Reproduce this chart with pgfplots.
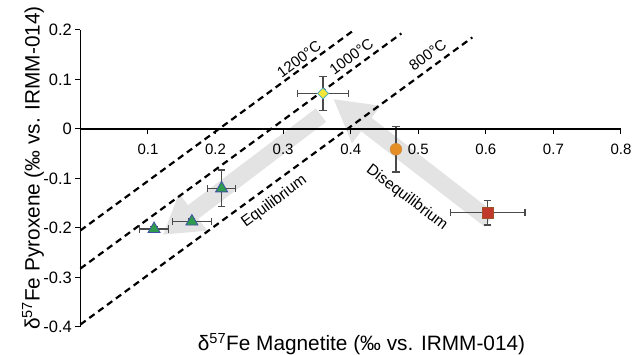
\documentclass[border=0pt]{standalone}
\usepackage{fontspec}
\setmainfont{Liberation Sans}
\usepackage{pgfplots}
\pgfplotsset{compat=1.18}
\usetikzlibrary{arrows.meta}
\definecolor{arrowgray}{HTML}{E3E3E3}
\definecolor{erry}{HTML}{4A4A4A}
\definecolor{dyellow}{HTML}{F3E63A}
\definecolor{dcyan}{HTML}{3BA7C4}
\definecolor{corange}{HTML}{E58E26}
\definecolor{sred}{HTML}{C0392B}
\definecolor{sredge}{HTML}{A0522D}
\definecolor{tgreen}{HTML}{2E9B4E}
\definecolor{tblue}{HTML}{3F51A5}
\pgfplotsset{
  myerr/.style={error bars/.cd, x dir=both, x explicit, y dir=both, y explicit,
    error bar style={line width=1.2pt, draw=erry},
    error mark options={rotate=90, line width=1.2pt, mark size=3.6pt, draw=erry}},
}
\begin{document}
\begin{tikzpicture}
\begin{axis}[
  scale only axis, width=540.6pt, height=297pt,
  xmin=0, xmax=0.8, ymin=-0.4, ymax=0.2,
  axis x line=middle, axis y line=left,
  axis line style={-, line width=1.5pt, black},
  axis on top, clip=false,
  xtick={0.1,0.2,0.3,0.4,0.5,0.6,0.7,0.8},
  xticklabels={0.1,0.2,0.3,0.4,0.5,0.6,0.7,0.8},
  ytick={-0.4,-0.3,-0.2,-0.1,0,0.1,0.2},
  yticklabels={-0.4,-0.3,-0.2,-0.1,0,0.1,0.2},
  tick align=outside, major tick length=5pt,
  tick style={line width=1pt, black},
  xticklabel style={font=\fontsize{15}{18}\selectfont, yshift=-6pt},
  yticklabel style={font=\fontsize{16.5}{19}\selectfont},
  /pgf/number format/assume math mode=true,
]
\coordinate (O) at (axis cs:0,-0.4);
% grey arrows
\addplot[draw=arrowgray, line width=17pt, -{Triangle[width=44pt,length=38pt]}]
  coordinates {(0.356,0.028) (0.122,-0.214)};
\addplot[draw=arrowgray, line width=17pt, -{Triangle[width=44pt,length=42pt]}]
  coordinates {(0.606,-0.184) (0.374,0.061)};
% isotherms
\addplot[black, line width=2.2pt, dash pattern=on 6.5pt off 4.5pt]
  coordinates {(0,-0.205) (0.405,0.200)};
\addplot[black, line width=2.2pt, dash pattern=on 6.5pt off 4.5pt]
  coordinates {(0,-0.282) (0.475,0.193)};
\addplot[black, line width=2.2pt, dash pattern=on 6.5pt off 4.5pt]
  coordinates {(0,-0.395) (0.58,0.185)};
% data
\addplot[only marks, mark=square*, mark size=3.9pt,
  mark options={rotate=45, fill=dyellow, draw=dcyan, line width=0.8pt}, myerr]
  coordinates {(0.359,0.072) +- (0.038,0.034)};
\addplot[only marks, mark=*, mark size=5.8pt,
  mark options={fill=corange, draw=corange!80!gray, line width=0.6pt}, myerr]
  coordinates {(0.467,-0.041) +- (0.007,0.046)};
\addplot[only marks, mark=square*, mark size=5.5pt,
  mark options={fill=sred, draw=sredge, line width=0.6pt}, myerr]
  coordinates {(0.603,-0.169) +- (0.055,0.025)};
\addplot[only marks, mark=triangle*, mark size=7pt,
  mark options={fill=tgreen, draw=tblue, line width=0.8pt}, myerr]
  coordinates {(0.209,-0.120) +- (0.021,0.037)
               (0.165,-0.187) +- (0.029,0.005)
               (0.109,-0.202) +- (0.021,0.005)};
% labels
\node[rotate=36.5, font=\fontsize{15}{18}\selectfont] at (axis cs:0.3235,0.141) {1200°C};
\node[rotate=36.5, font=\fontsize{15}{18}\selectfont] at (axis cs:0.401,0.146) {1000°C};
\node[rotate=36.5, font=\fontsize{15}{18}\selectfont] at (axis cs:0.514,0.149) {800°C};
\node[rotate=36.5, font=\fontsize{15.5}{18}\selectfont] at (axis cs:0.287,-0.147) {Equilibrium};
\node[rotate=-37, font=\fontsize{15.5}{18}\selectfont] at (axis cs:0.483,-0.139) {Disequilibrium};
\node[font=\fontsize{20.8}{24}\selectfont] at (rel axis cs:0.520,-0.057) {δ\textsuperscript{57}Fe Magnetite (‰ vs. IRMM-014)};
\node[rotate=90, font=\fontsize{20.8}{24}\selectfont] at (rel axis cs:-0.0877,0.535) {δ\textsuperscript{57}Fe Pyroxene (‰ vs. IRMM-014)};
\end{axis}
\pgfresetboundingbox
\path[use as bounding box] ([shift={(-80.4pt,-28pt)}]O) rectangle ([shift={(551.6pt,327pt)}]O);
\end{tikzpicture}
\end{document}
